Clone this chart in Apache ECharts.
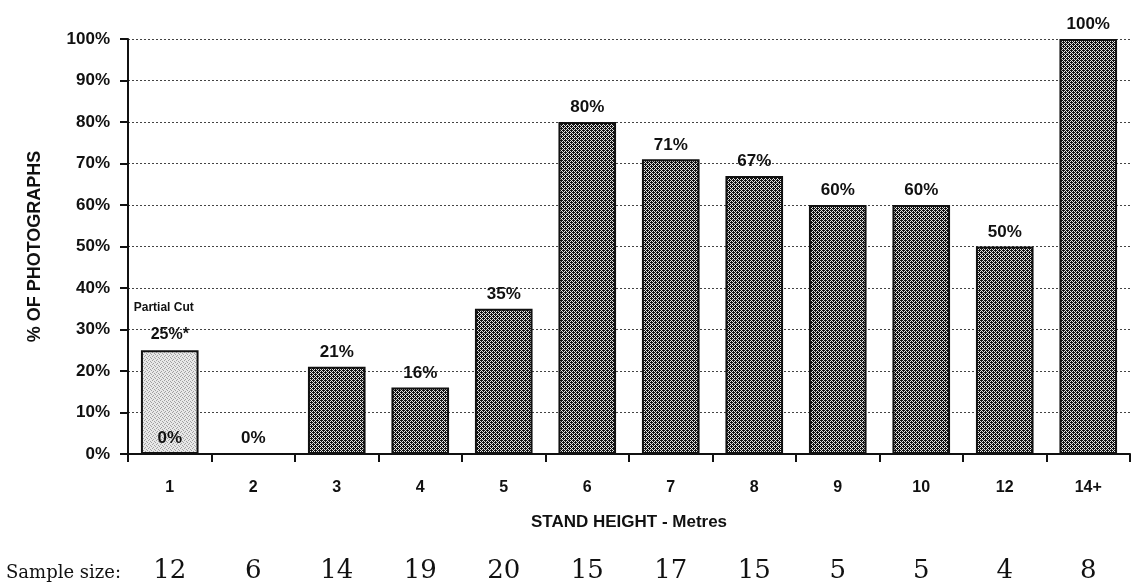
<!DOCTYPE html>
<html>
<head>
<meta charset="utf-8">
<script src="https://cdn.jsdelivr.net/npm/echarts@6/dist/echarts.min.js"></script>
<style>
  html, body { margin: 0; padding: 0; background: #fff; }
  #chart { width: 1137px; height: 588px; }
</style>
</head>
<body>
<div id="chart"></div>
<script>
// Stand height classes (metres)
const categories = ['1', '2', '3', '4', '5', '6', '7', '8', '9', '10', '12', '14+'];
// Clear-cut share of photographs, %
const clearCut = [0, 0, 21, 16, 35, 80, 71, 67, 60, 60, 50, 100];
// Partial-cut share, only recorded for the 1 m class
const partialCut = [25, null, null, null, null, null, null, null, null, null, null, null];
// Number of photographs in each class
const sampleSize = [12, 6, 14, 19, 20, 15, 17, 15, 5, 5, 4, 8];
const yTicks = [0, 10, 20, 30, 40, 50, 60, 70, 80, 90, 100];

// Fine cross-hatch texture for the bars
function makePattern(dark, light, size, isDark) {
  const c = document.createElement('canvas');
  c.width = size; c.height = size;
  const g = c.getContext('2d');
  g.fillStyle = light;
  g.fillRect(0, 0, size, size);
  g.fillStyle = dark;
  for (let x = 0; x < size; x++) {
    for (let y = 0; y < size; y++) {
      if (isDark(x, y)) g.fillRect(x, y, 1, 1);
    }
  }
  return c;
}
const darkHatch = makePattern('#111', '#e4e4e4', 4, function (x, y) {
  return (x + y) % 2 === 0 || (x + 4 - y) % 4 === 1 && y % 2 === 0;
});
const lightStipple = makePattern('#a0a0a0', '#e8e8e8', 4, function (x, y) {
  return (x === 0 && y === 0) || (x === 2 && y === 1) || (x === 1 && y === 3) || (x === 3 && y === 2);
});

const chart = echarts.init(document.getElementById('chart'), null, { renderer: 'canvas' });

const boldFont = { fontFamily: 'Arial, "Liberation Sans", sans-serif', fontWeight: 'bold', color: '#111' };

chart.setOption({
  animation: false,
  backgroundColor: '#fff',
  grid: { left: 128, right: 7, top: 39, bottom: 134 },
  xAxis: [{
    type: 'category',
    data: categories,
    position: 'bottom',
    axisLine: { lineStyle: { color: '#111', width: 2 } },
    axisTick: { show: true, length: 8, lineStyle: { color: '#111', width: 2 } },
    axisLabel: Object.assign({ fontSize: 16, margin: 26 }, boldFont),
    name: 'STAND HEIGHT - Metres',
    nameLocation: 'middle',
    nameGap: 60,
    nameTextStyle: Object.assign({ fontSize: 17 }, boldFont)
  }, {
    type: 'category',
    data: sampleSize.map(String),
    position: 'bottom',
    offset: 104,
    axisLine: { show: false },
    axisTick: { show: false },
    axisLabel: {
      fontFamily: '"DejaVu Serif", "Liberation Serif", serif',
      fontSize: 26,
      color: '#111',
      margin: 0,
      verticalAlign: 'top'
    }
  }],
  yAxis: {
    type: 'value',
    min: 0,
    max: 100,
    interval: 10,
    axisLine: { show: true, lineStyle: { color: '#111', width: 2 } },
    axisTick: { show: true, length: 8, lineStyle: { color: '#111', width: 2 } },
    axisLabel: Object.assign({
      fontSize: 17,
      margin: 18,
      formatter: function (v) { return yTicks.indexOf(v) >= 0 ? v + '%' : ''; }
    }, boldFont),
    splitLine: { show: true, lineStyle: { color: '#444', width: 1, type: [2, 2] } },
    name: '% OF PHOTOGRAPHS',
    nameLocation: 'middle',
    nameGap: 84,
    nameTextStyle: Object.assign({ fontSize: 18 }, boldFont)
  },
  series: [{
    name: 'Partial Cut',
    type: 'bar',
    data: partialCut,
    barWidth: '69%',
    barGap: '-100%',
    z: 1,
    itemStyle: { color: { image: lightStipple, repeat: 'repeat' }, borderColor: '#111', borderWidth: 2 },
    label: {
      show: true,
      position: 'top',
      distance: 6,
      formatter: function (p) { return '{t|Partial Cut}\n{v|' + p.value + '%*}'; },
      rich: {
        t: Object.assign({ fontSize: 12, lineHeight: 34, padding: [0, 12, 0, 0] }, boldFont),
        v: Object.assign({ fontSize: 16, lineHeight: 20, color: '#333' }, boldFont)
      }
    }
  }, {
    name: 'Clear Cut',
    type: 'bar',
    data: clearCut,
    barWidth: '69%',
    z: 2,
    itemStyle: { color: { image: darkHatch, repeat: 'repeat' }, borderColor: '#111', borderWidth: 2 },
    label: Object.assign({
      show: true,
      position: 'top',
      distance: 6,
      fontSize: 17,
      formatter: function (p) { return p.value + '%'; }
    }, boldFont)
  }],
  graphic: [{
    type: 'text',
    left: 6,
    top: 564,
    style: {
      text: 'Sample size:',
      font: '18px "DejaVu Serif", "Liberation Serif", serif',
      fill: '#111'
    }
  }]
});
</script>
</body>
</html>
